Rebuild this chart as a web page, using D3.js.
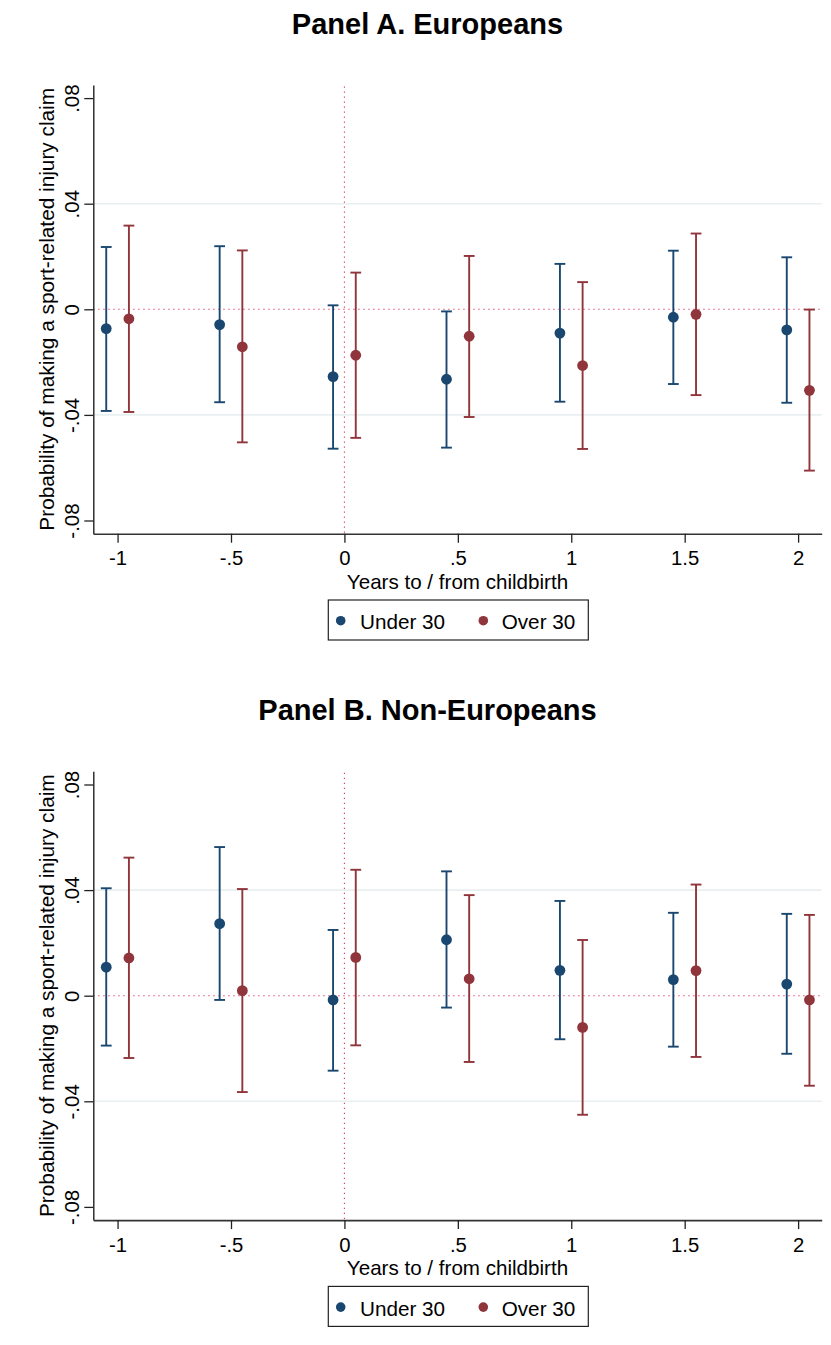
<!DOCTYPE html>
<html>
<head>
<meta charset="utf-8">
<script src="https://cdn.jsdelivr.net/npm/d3@7/dist/d3.min.js"></script>
<style>
  html, body { margin: 0; padding: 0; background: #fff; }
  svg { display: block; }
  text { font-family: "Liberation Sans", Arial, Helvetica, sans-serif; fill: #000; }
</style>
</head>
<body>
<svg id="chart" width="831" height="1345"></svg>
<script>
// Event time (years relative to childbirth)
const years = [-1, -0.5, 0, 0.5, 1, 1.5, 2];
const xTickValues = [-1, -0.5, 0, 0.5, 1, 1.5, 2];
const xTickLabels = ["-1", "-.5", "0", ".5", "1", "1.5", "2"];
const yTickValues = [0.08, 0.04, 0, -0.04, -0.08];
const yTickLabels = [".08", ".04", "0", "-.04", "-.08"];
const gridValues = [0.04, -0.04];

const seriesNames = ["Under 30", "Over 30"];
const seriesColors = ["#1a476f", "#90353b"];
const seriesShift = [-0.05, 0.05];

// Panel A. Europeans
const euUnderEst = [-0.0073, -0.0058, -0.0255, -0.0265, -0.0090, -0.0030, -0.0078];
const euUnderLo  = [-0.0385, -0.0352, -0.0528, -0.0524, -0.0350, -0.0283, -0.0354];
const euUnderHi  = [ 0.0236,  0.0239,  0.0015, -0.0008,  0.0172,  0.0222,  0.0197];
const euOverEst  = [-0.0036, -0.0142, -0.0174, -0.0102, -0.0213, -0.0019, -0.0307];
const euOverLo   = [-0.0389, -0.0504, -0.0487, -0.0408, -0.0529, -0.0325, -0.0611];
const euOverHi   = [ 0.0317,  0.0223,  0.0139,  0.0202,  0.0103,  0.0287, -0.0001];

// Panel B. Non-Europeans
const neUnderEst = [ 0.0108,  0.0273, -0.0016,  0.0212,  0.0096,  0.0061,  0.0044];
const neUnderLo  = [-0.0189, -0.0016, -0.0284, -0.0045, -0.0165, -0.0193, -0.0220];
const neUnderHi  = [ 0.0407,  0.0563,  0.0249,  0.0471,  0.0359,  0.0314,  0.0310];
const neOverEst  = [ 0.0143,  0.0019,  0.0145,  0.0064, -0.0120,  0.0095, -0.0016];
const neOverLo   = [-0.0236, -0.0365, -0.0188, -0.0251, -0.0451, -0.0232, -0.0341];
const neOverHi   = [ 0.0523,  0.0404,  0.0477,  0.0381,  0.0211,  0.0421,  0.0306];

const panels = [
  { title: "Panel A. Europeans", top: 0,
    series: [[euUnderEst, euUnderLo, euUnderHi], [euOverEst, euOverLo, euOverHi]] },
  { title: "Panel B. Non-Europeans", top: 686.4,
    series: [[neUnderEst, neUnderLo, neUnderHi], [neOverEst, neOverLo, neOverHi]] }
];

const svg = d3.select("#chart");
svg.append("rect").attr("width", 831).attr("height", 1345).attr("fill", "#fff");

const plotLeft = 93.3, plotRight = 821.7;
const x = d3.scaleLinear().domain([-1.107, 2.104]).range([plotLeft, plotRight]);

panels.forEach(p => {
  const g = svg.append("g").attr("transform", `translate(0,${p.top})`);
  const y = d3.scaleLinear().domain([-0.085, 0.085]).range([533.7, 84.9]);
  const plotTop = y.range()[1], plotBottom = y.range()[0];

  // title
  g.append("text")
    .attr("x", 427.5).attr("y", 33.5)
    .attr("text-anchor", "middle")
    .attr("font-size", 29).attr("font-weight", "bold")
    .text(p.title);

  // grid lines
  g.selectAll(".grid").data(gridValues).join("line")
    .attr("x1", plotLeft).attr("x2", plotRight)
    .attr("y1", d => y(d)).attr("y2", d => y(d))
    .attr("stroke", "#e8eff1").attr("stroke-width", 1.6);

  // reference lines at zero
  g.append("line")
    .attr("x1", plotLeft).attr("x2", plotRight)
    .attr("y1", y(0)).attr("y2", y(0))
    .attr("stroke", "#e0355f").attr("stroke-width", 1.1)
    .attr("stroke-dasharray", "1.3 3.7");
  g.append("line")
    .attr("x1", x(0)).attr("x2", x(0))
    .attr("y1", plotTop + 1.5).attr("y2", plotBottom)
    .attr("stroke", "#e0355f").attr("stroke-width", 1.1)
    .attr("stroke-dasharray", "1.3 3.7");

  // y axis
  const yAxis = d3.axisLeft(y)
    .tickValues(yTickValues)
    .tickFormat((d, i) => yTickLabels[i])
    .tickSize(9).tickSizeOuter(0);
  const ya = g.append("g").attr("transform", `translate(${plotLeft},0)`).call(yAxis);
  ya.select(".domain").attr("stroke", "#222").attr("stroke-width", 1.4);
  ya.selectAll(".tick line").attr("stroke", "#222").attr("stroke-width", 1.3);
  ya.selectAll(".tick text")
    .attr("x", 0).attr("dy", 0)
    .attr("text-anchor", "middle")
    .attr("font-size", 20.5)
    .attr("fill", "#000")
    .attr("transform", "translate(-14.3,0) rotate(-90)");

  // x axis
  const xAxis = d3.axisBottom(x)
    .tickValues(xTickValues)
    .tickFormat((d, i) => xTickLabels[i])
    .tickSize(9).tickSizeOuter(0);
  const xa = g.append("g").attr("transform", `translate(0,${plotBottom})`).call(xAxis);
  xa.select(".domain").attr("stroke", "#333").attr("stroke-width", 1.6);
  xa.selectAll(".tick line").attr("stroke", "#222").attr("stroke-width", 1.3);
  xa.selectAll(".tick text")
    .attr("y", 31.8).attr("dy", 0)
    .attr("font-size", 20.3)
    .attr("fill", "#000");

  // axis titles
  g.append("text")
    .attr("transform", `translate(54,${(plotTop + plotBottom) / 2}) rotate(-90)`)
    .attr("text-anchor", "middle")
    .attr("font-size", 20.8)
    .text("Probability of making a sport-related injury claim");
  g.append("text")
    .attr("x", (plotLeft + plotRight) / 2).attr("y", 588.6)
    .attr("text-anchor", "middle")
    .attr("font-size", 20.6)
    .text("Years to / from childbirth");

  // confidence intervals and point estimates
  p.series.forEach((s, si) => {
    const [est, lo, hi] = s;
    const color = seriesColors[si];
    const rows = years.map((t, i) => ({ t: t + seriesShift[si], est: est[i], lo: lo[i], hi: hi[i] }));
    const sg = g.append("g");
    sg.selectAll(".ci").data(rows).join("line")
      .attr("x1", d => x(d.t)).attr("x2", d => x(d.t))
      .attr("y1", d => y(d.lo)).attr("y2", d => y(d.hi))
      .attr("stroke", color).attr("stroke-width", 1.9);
    sg.selectAll(".capLo").data(rows).join("line")
      .attr("x1", d => x(d.t) - 5.4).attr("x2", d => x(d.t) + 5.4)
      .attr("y1", d => y(d.lo)).attr("y2", d => y(d.lo))
      .attr("stroke", color).attr("stroke-width", 1.9);
    sg.selectAll(".capHi").data(rows).join("line")
      .attr("x1", d => x(d.t) - 5.4).attr("x2", d => x(d.t) + 5.4)
      .attr("y1", d => y(d.hi)).attr("y2", d => y(d.hi))
      .attr("stroke", color).attr("stroke-width", 1.9);
    sg.selectAll("circle").data(rows).join("circle")
      .attr("cx", d => x(d.t)).attr("cy", d => y(d.est))
      .attr("r", 5.4).attr("fill", color);
  });

  // legend
  const lg = g.append("g");
  lg.append("rect")
    .attr("x", 328.3).attr("y", 600).attr("width", 260).attr("height", 40)
    .attr("fill", "#fff").attr("stroke", "#222").attr("stroke-width", 1.2);
  const legendMarkX = [340.7, 483.3];
  const legendTextX = [360, 501.7];
  seriesNames.forEach((name, i) => {
    lg.append("circle").attr("cx", legendMarkX[i]).attr("cy", 620.7).attr("r", 4.8)
      .attr("fill", seriesColors[i]);
    lg.append("text").attr("x", legendTextX[i]).attr("y", 629.3)
      .attr("font-size", 20.7).text(name);
  });
});
</script>
</body>
</html>
